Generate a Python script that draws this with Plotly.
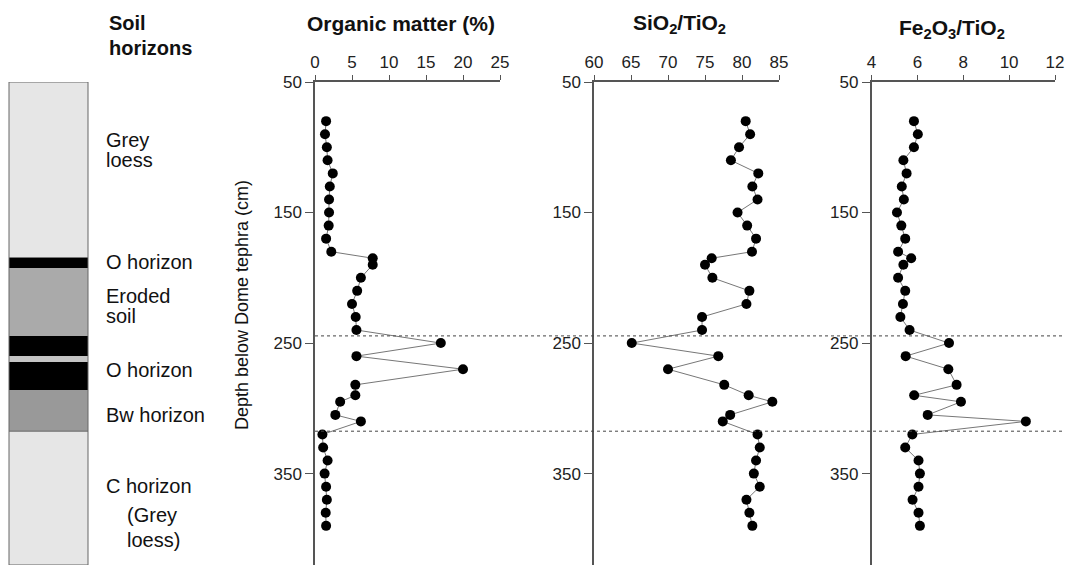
import plotly.graph_objects as go

# ---------------- data ----------------
depth = [80, 90, 100, 110, 120, 130, 140, 150, 160, 170, 180, 185, 190, 200, 210,
         220, 230, 240, 250, 260, 270, 282, 290, 295, 305, 310, 320, 330, 340, 350,
         360, 370, 380, 390]
organic = [1.5, 1.35, 1.6, 1.7, 2.4, 2.0, 1.9, 1.9, 1.85, 1.5, 2.2, 7.8, 7.8, 6.2, 5.7,
           5.0, 5.5, 5.6, 17.0, 5.6, 20.0, 5.45, 5.45, 3.4, 2.75, 6.2, 1.0, 1.1, 1.7, 1.3,
           1.5, 1.6, 1.45, 1.5]
sio2_tio2 = [80.5, 81.1, 79.6, 78.5, 82.2, 81.4, 82.1, 79.4, 80.7, 81.9, 81.35, 75.9, 75.0, 76.0, 81.0,
             80.6, 74.6, 74.6, 65.1, 76.8, 70.0, 77.6, 80.9, 84.1, 78.4, 77.4, 82.1, 82.4, 81.9, 81.6,
             82.4, 80.6, 81.0, 81.4]
fe2o3_tio2 = [5.85, 6.02, 5.85, 5.39, 5.53, 5.32, 5.41, 5.11, 5.30, 5.47, 5.16, 5.73, 5.39, 5.16, 5.47,
              5.37, 5.26, 5.66, 7.38, 5.49, 7.35, 7.71, 5.86, 7.90, 6.45, 10.73, 5.78, 5.47, 6.05, 6.11,
              6.05, 5.79, 6.05, 6.11]

depth_ticks = [50, 150, 250, 350]
om_ticks = [0, 5, 10, 15, 20, 25]
si_ticks = [60, 65, 70, 75, 80, 85]
fe_ticks = [4, 6, 8, 10, 12]

# soil horizons: (top, bottom, colour)
horizon_top = [50, 184.5, 192.5, 244.5, 260, 264.5, 286, 317.5]
horizon_bot = [184.5, 192.5, 244.5, 260, 264.5, 286, 317.5, 420]
horizon_col = ["#e6e6e6", "#000000", "#aaaaaa", "#000000", "#c4c4c4", "#000000", "#999999", "#e6e6e6"]
boundaries = [244.5, 317.5]

W, H = 1065, 565
FONT = "Liberation Sans, Arial, Helvetica, sans-serif"
AX = "#555555"

def px(x):
    return x / W

def py(y):
    return 1 - y / H

fig = go.Figure()
panels = [("x", "y", organic), ("x2", "y2", sio2_tio2), ("x3", "y3", fe2o3_tio2)]
for xa, ya, vals in panels:
    fig.add_trace(go.Scatter(
        x=vals, y=depth, xaxis=xa, yaxis=ya, mode="lines+markers",
        line=dict(color="#777777", width=1),
        marker=dict(color="black", size=10),
        showlegend=False, hoverinfo="skip", cliponaxis=False))

ydom = [0, (H - 82) / H]
common_y = dict(range=[420, 50], domain=ydom, tickvals=depth_ticks, ticks="outside",
                ticklen=8, tickwidth=1.2, tickcolor=AX, showline=True, linecolor=AX,
                linewidth=1.5, showgrid=False, zeroline=False, automargin=False,
                ticklabeloverflow="allow",
                tickfont=dict(family=FONT, size=17, color="#222"))
common_x = dict(side="top", ticks="outside", ticklen=5, tickwidth=1.2, tickcolor=AX,
                showline=True, linecolor=AX, linewidth=1.5, showgrid=False, zeroline=False,
                automargin=False, ticklabeloverflow="allow",
                tickfont=dict(family=FONT, size=17, color="#222"))

fig.update_layout(
    template="none",
    width=W, height=H, margin=dict(l=0, r=0, t=0, b=0, pad=0),
    paper_bgcolor="white", plot_bgcolor="rgba(0,0,0,0)", showlegend=False,
    xaxis=dict(common_x, domain=[px(315), px(500)], range=[0, 25], tickvals=om_ticks, anchor="y"),
    xaxis2=dict(common_x, domain=[px(594), px(779)], range=[60, 85], tickvals=si_ticks, anchor="y2"),
    xaxis3=dict(common_x, domain=[px(871.5), px(1055)], range=[4, 12], tickvals=fe_ticks, anchor="y3"),
    yaxis=dict(common_y, anchor="x"),
    yaxis2=dict(common_y, anchor="x2"),
    yaxis3=dict(common_y, anchor="x3"),
)

shapes = []
# soil column
for t, b, c in zip(horizon_top, horizon_bot, horizon_col):
    shapes.append(dict(type="rect", xref="paper", yref="y", x0=px(9), x1=px(88), y0=t, y1=b,
                       fillcolor=c, line=dict(width=0), layer="below"))
shapes.append(dict(type="rect", xref="paper", yref="y", x0=px(9), x1=px(88), y0=50, y1=420,
                   fillcolor="rgba(0,0,0,0)", line=dict(color="#666666", width=1)))
shapes.append(dict(type="line", xref="paper", yref="y", x0=px(9), x1=px(88),
                   y0=boundaries[1], y1=boundaries[1], line=dict(color="#666666", width=1)))
# dotted boundary lines
for b in boundaries:
    shapes.append(dict(type="line", xref="paper", yref="y", x0=px(315), x1=1, y0=b, y1=b,
                       line=dict(color="#444444", width=1, dash="dot")))
fig.update_layout(shapes=shapes)

ann = []
def text(t, x, y, size=20, bold=False, anchor="left"):
    ann.append(dict(text=("<b>%s</b>" % t) if bold else t, x=px(x), y=py(y), xref="paper", yref="paper",
                    xanchor=anchor, yanchor="middle", showarrow=False,
                    font=dict(family=FONT, size=size, color="#111")))

text("Soil", 107, 23, 20, True)
text("horizons", 107, 48, 20, True)
text("Organic matter (%)", 401, 23, 21, True, "center")
text("SiO<sub>2</sub>/TiO<sub>2</sub>", 679, 24, 21, True, "center")
text("Fe<sub>2</sub>O<sub>3</sub>/TiO<sub>2</sub>", 952, 29, 21, True, "center")

labels = [("Grey", 104, 140), ("loess", 104, 160), ("O horizon", 104, 262),
          ("Eroded", 104, 296), ("soil", 104, 316), ("O horizon", 104, 370),
          ("Bw horizon", 104, 415), ("C horizon", 104, 486), ("(Grey", 125, 515),
          ("loess)", 125, 540)]
for t, x, y in labels:
    text(t, x, y, 20)

ann.append(dict(text="Depth below Dome tephra (cm)", x=px(242), y=py(305), xref="paper", yref="paper",
                xanchor="center", yanchor="middle", textangle=-90, showarrow=False,
                font=dict(family=FONT, size=18, color="#111")))
fig.update_layout(annotations=ann)

fig.write_html("out.html")
